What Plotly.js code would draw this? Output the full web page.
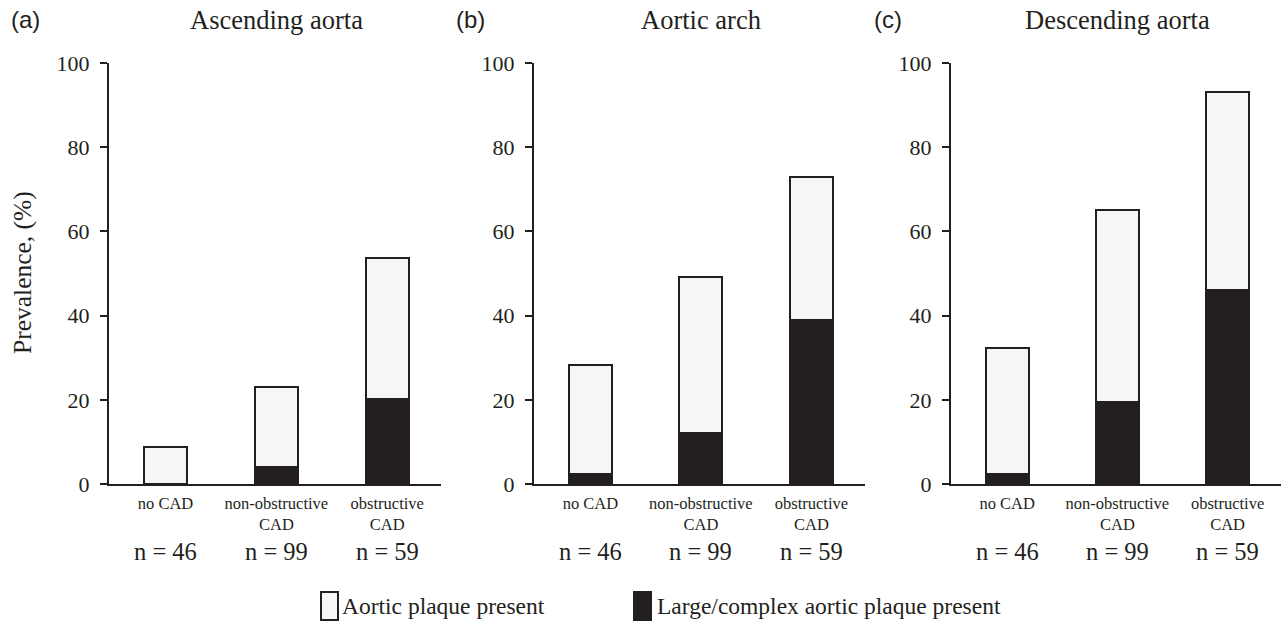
<!DOCTYPE html>
<html>
<head>
<meta charset="utf-8">
<script src="https://cdn.plot.ly/plotly-3.0.1.min.js"></script>
<style>html,body{margin:0;padding:0;background:#fff;}#chart{width:1284px;height:624px;}</style>
</head>
<body>
<div id="chart"></div>
<script>
// ---- data ----
const categories = ['no CAD', 'non-obstructive<br>CAD', 'obstructive<br>CAD'];
const groupSizes = ['n = 46', 'n = 99', 'n = 59'];
const panelTitles = ['Ascending aorta', 'Aortic arch', 'Descending aorta'];
const panelLetters = ['(a)', '(b)', '(c)'];
const seriesNames = ['Aortic plaque present', 'Large/complex aortic plaque present'];
// total prevalence of any aortic plaque (%)
const ascendingAny = [8.7, 23.1, 53.7];
const archAny = [28.2, 49.2, 73.0];
const descendingAny = [32.3, 65.2, 93.2];
// prevalence of large/complex aortic plaque (%)
const ascendingLarge = [0, 4.1, 20.1];
const archLarge = [2.4, 12.2, 39.0];
const descendingLarge = [2.4, 19.4, 46.0];

const anyByPanel = [ascendingAny, archAny, descendingAny];
const largeByPanel = [ascendingLarge, archLarge, descendingLarge];

const INK = '#231f20';
const LIGHT = '#f6f6f6';
const SERIF = '"Liberation Serif", "Times New Roman", serif';
const SANS = '"Liberation Sans", Arial, sans-serif';
const W = 1284, H = 624;

const xDomains = [[109 / W, 441 / W], [534 / W, 865 / W], [951 / W, 1281 / W]];
const yDomain = [1 - 484 / H, 1 - 63 / H];

const traces = [];
const layout = {
  width: W, height: H,
  margin: {l: 0, r: 0, t: 0, b: 0},
  paper_bgcolor: '#fff', plot_bgcolor: 'rgba(0,0,0,0)',
  barmode: 'stack', bargap: 0.6,
  showlegend: false,
  font: {family: SERIF, color: INK},
  annotations: [], shapes: []
};

for (let p = 0; p < 3; p++) {
  const sfx = p === 0 ? '' : String(p + 1);
  const xa = 'x' + sfx, ya = 'y' + sfx;
  const upper = anyByPanel[p].map((v, i) => +(v - largeByPanel[p][i]).toFixed(2));
  traces.push({
    type: 'bar', x: categories, y: largeByPanel[p], name: seriesNames[1],
    xaxis: xa, yaxis: ya, width: 0.39,
    marker: {color: INK, line: {color: INK, width: 2}},
    hoverinfo: 'y'
  });
  traces.push({
    type: 'bar', x: categories, y: upper, name: seriesNames[0],
    xaxis: xa, yaxis: ya, width: 0.39,
    marker: {color: LIGHT, line: {color: INK, width: 2}},
    hoverinfo: 'y'
  });
  layout['xaxis' + sfx] = {
    domain: xDomains[p], anchor: ya, type: 'category',
    range: [-0.51, 2.485],
    showline: true, linecolor: INK, linewidth: 2,
    ticks: '', showgrid: false, zeroline: false,
    tickfont: {family: SERIF, size: 16.5, color: INK},
    ticklabelstandoff: 3,
    fixedrange: true
  };
  layout['yaxis' + sfx] = {
    domain: yDomain, anchor: xa, range: [0, 100], dtick: 20,
    showline: true, linecolor: INK, linewidth: 2,
    ticks: 'outside', ticklen: 7, tickwidth: 2, tickcolor: INK,
    showgrid: false, zeroline: false,
    tickfont: {family: SERIF, size: 22, color: INK},
    ticklabelstandoff: 6,
    fixedrange: true
  };
  // panel title
  layout.annotations.push({
    xref: xa, yref: 'paper', x: 1, y: 1 - 20 / H,
    text: panelTitles[p], showarrow: false, xanchor: 'center', yanchor: 'middle',
    font: {family: SERIF, size: 26.5, color: INK}
  });
  // group sizes
  for (let i = 0; i < categories.length; i++) {
    layout.annotations.push({
      xref: xa, yref: 'paper', x: categories[i], y: 1 - 551 / H,
      text: groupSizes[i], showarrow: false, xanchor: 'center', yanchor: 'middle',
      font: {family: SERIF, size: 24.5, color: INK}
    });
  }
}

// panel letters
const letterX = [9, 454, 872];
for (let p = 0; p < 3; p++) {
  layout.annotations.push({
    xref: 'paper', yref: 'paper', x: letterX[p] / W, y: 1 - 19 / H,
    text: panelLetters[p], showarrow: false, xanchor: 'left', yanchor: 'middle',
    font: {family: SANS, size: 24, color: INK}
  });
}

// y-axis title
layout.annotations.push({
  xref: 'paper', yref: 'paper', x: 22 / W, y: 1 - 273 / H,
  text: 'Prevalence, (%)', textangle: -90, showarrow: false,
  xanchor: 'center', yanchor: 'middle',
  font: {family: SERIF, size: 25.5, color: INK}
});

// legend
const legendItems = [
  {box: [321, 338], textX: 340, fill: LIGHT, label: seriesNames[0]},
  {box: [634, 651], textX: 655, fill: INK, label: seriesNames[1]}
];
legendItems.forEach(it => {
  layout.shapes.push({
    type: 'rect', xref: 'paper', yref: 'paper',
    x0: it.box[0] / W, x1: it.box[1] / W, y0: 1 - 620 / H, y1: 1 - 592 / H,
    fillcolor: it.fill, line: {color: INK, width: 2}
  });
  layout.annotations.push({
    xref: 'paper', yref: 'paper', x: it.textX / W, y: 1 - 606 / H,
    text: it.label, showarrow: false, xanchor: 'left', yanchor: 'middle',
    font: {family: SERIF, size: 23.5, color: INK}
  });
});

Plotly.newPlot('chart', traces, layout, {displayModeBar: false, staticPlot: true});
</script>
</body>
</html>
